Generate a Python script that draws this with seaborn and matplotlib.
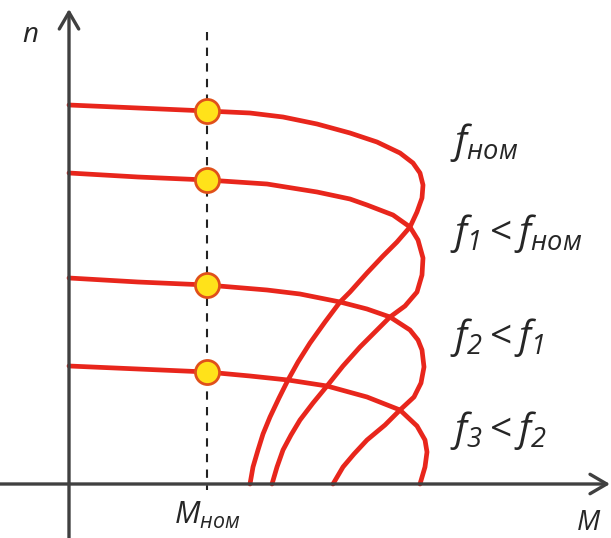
import numpy as np
import pandas as pd
import matplotlib
matplotlib.use("Agg")
import matplotlib.pyplot as plt
import seaborn as sns

# -----------------------------
# Data (torque M, speed n), arbitrary units
# -----------------------------
c1_m = [0, 69, 138, 181, 214, 248, 281, 308, 331, 344, 351, 354, 353, 348, 341, 328, 314,
        298, 281, 271, 256, 241, 229, 219, 210, 201, 194, 189, 184, 181]
c1_n = [379, 376, 373, 371, 367, 360, 351, 342, 331, 321, 311, 299, 286, 272, 257, 242, 228,
        211, 192, 182, 162, 141, 122, 104, 86, 67, 50, 34, 17, 0]

c2_m = [0, 69, 138, 198, 248, 281, 298, 324, 341, 349, 354, 353, 348, 336, 321, 306, 291,
        274, 258, 244, 231, 222, 214, 208, 203]
c2_n = [311, 307, 304, 300, 292, 285, 279, 269, 257, 244, 226, 209, 192, 178, 167, 152, 137,
        118, 98, 81, 64, 49, 34, 17, 0]

c3_m = [0, 69, 138, 198, 231, 271, 298, 321, 341, 349, 353, 355, 352, 345, 331, 316, 298,
        285, 274, 264]
c3_n = [206, 202, 199, 194, 190, 182, 175, 167, 154, 144, 134, 117, 101, 87, 74, 59, 44,
        30, 17, 0]

c4_m = [0, 69, 138, 181, 219, 258, 298, 331, 348, 356, 358, 356, 351]
c4_n = [118, 115, 112, 108, 104, 98, 87, 74, 58, 44, 32, 17, 0]

curves = [(c1_m, c1_n), (c2_m, c2_n), (c3_m, c3_n), (c4_m, c4_n)]

m_nom = 138
dot_n = [373, 304, 199, 112]

labels = [r"$f_{ном}$", r"$f_{\mathsf{1}} < f_{ном}$",
          r"$f_{\mathsf{2}} < f_{\mathsf{1}}$", r"$f_{\mathsf{3}} < f_{\mathsf{2}}$"]
label_n = [331, 240, 136, 43]

# -----------------------------
# Style
# -----------------------------
sns.set_style("white")
plt.rcParams["font.family"] = ["Open Sans", "DejaVu Sans"]
plt.rcParams["mathtext.fontset"] = "custom"
plt.rcParams["mathtext.it"] = "Open Sans:italic"
plt.rcParams["mathtext.rm"] = "Open Sans"
plt.rcParams["mathtext.sf"] = "Open Sans:italic"
plt.rcParams["mathtext.bf"] = "Open Sans:bold"

red = "#E8261C"
axis_col = "#404040"

fig = plt.figure(figsize=(6.11, 5.38), dpi=100)
ax = fig.add_axes([0, 0, 1, 1])
ax.set_xlim(-69, 542)
ax.set_ylim(-54, 484)
ax.axis("off")

# axes with arrows
arrow = dict(arrowstyle="->,head_length=0.6,head_width=0.35", lw=2.4,
             color=axis_col, mutation_scale=20, shrinkA=0, shrinkB=0)
ax.annotate("", xy=(0, 475), xytext=(0, -54), arrowprops=arrow, zorder=4)
ax.annotate("", xy=(541, 0), xytext=(-69, 0), arrowprops=arrow, zorder=4)

# nominal torque line
ax.plot([m_nom, m_nom], [452, -6], color="#222222", lw=1.5,
        dashes=(4, 3.5), zorder=1)

# mechanical characteristics
for m, n in curves:
    df = pd.DataFrame({"M": m, "n": n})
    sns.lineplot(data=df, x="M", y="n", sort=False, estimator=None,
                 color=red, linewidth=3.4, solid_joinstyle="round",
                 ax=ax, zorder=2)

# operating points
dots = pd.DataFrame({"M": [m_nom] * len(dot_n), "n": dot_n})
sns.scatterplot(data=dots, x="M", y="n", s=300, color="#FFE21A",
                edgecolor="#E0501A", linewidth=2, ax=ax, zorder=3)

# texts
ax.text(-39, 449, r"$n$", fontsize=20, ha="center", va="center")
ax.text(m_nom, -31, r"$M_{ном}$", fontsize=22, ha="center", va="center")
ax.text(520, -46, r"$M$", fontsize=20, ha="center", va="baseline")
for lab, y in zip(labels, label_n):
    ax.text(381, y, lab, fontsize=28, ha="left", va="baseline")

ax.set_xlabel("")
ax.set_ylabel("")
plt.savefig("out.png", dpi=100)
